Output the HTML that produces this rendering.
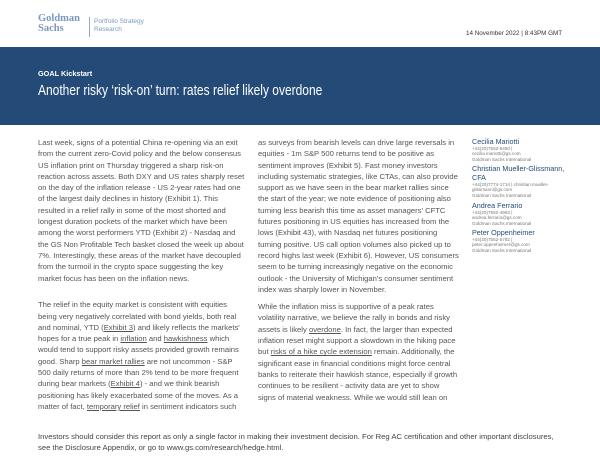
<!DOCTYPE html>
<html><head><meta charset="utf-8"><style>
body{margin:0;width:600px;height:464px;background:#fff;font-family:"Liberation Sans",sans-serif;position:relative;overflow:hidden;color:#333}
.hdr{position:absolute;left:0;top:47px;width:600px;height:78px;background:#244b78}
.col{position:absolute;font-size:7.65px;line-height:11.3px;color:#555;white-space:nowrap}
.col p{margin:0 0 15.4px 0}
u{text-decoration:underline}
.a{position:absolute;left:472px;font-size:4.6px;line-height:5.4px;color:#777;white-space:nowrap}
.a b{display:block;font-weight:normal;font-size:7.2px;line-height:9px;color:#244b78}
</style></head><body>
<div style="position:absolute;left:38px;top:14px;font-family:'Liberation Serif',serif;font-weight:bold;font-size:10.5px;line-height:9.5px;color:#7a99bd">Goldman<br>Sachs</div>
<div style="position:absolute;left:89px;top:17px;width:1px;height:20px;background:#9ab"></div>
<div style="position:absolute;left:94px;top:18px;font-size:6.5px;line-height:8px;color:#7a99bd">Portfolio Strategy<br>Research</div>
<div style="position:absolute;left:466px;top:30px;font-size:6.3px;color:#333">14 November 2022 | 8:43PM GMT</div>
<div class="hdr">
<div style="position:absolute;left:38px;top:22px;font-size:7.3px;font-weight:bold;color:#fff">GOAL Kickstart</div>
<div style="position:absolute;left:38px;top:35px;font-size:15px;color:#fff;white-space:nowrap;transform:scaleX(0.8);transform-origin:0 0">Another risky ‘risk-on’ turn: rates relief likely overdone</div>
</div>
<div class="col" style="left:38px;top:137px">
<p>Last week, signs of a potential China re-opening via an exit<br>from the current zero-Covid policy and the below consensus<br>US inflation print on Thursday triggered a sharp risk-on<br>reaction across assets. Both DXY and US rates sharply reset<br>on the day of the inflation release - US 2-year rates had one<br>of the largest daily declines in history (Exhibit 1). This<br>resulted in a relief rally in some of the most shorted and<br>longest duration pockets of the market which have been<br>among the worst performers YTD (Exhibit 2) - Nasdaq and<br>the GS Non Profitable Tech basket closed the week up about<br>7%. Interestingly, these areas of the market have decoupled<br>from the turmoil in the crypto space suggesting the key<br>market focus has been on the inflation news.</p>
<p>The relief in the equity market is consistent with equities<br>being very negatively correlated with bond yields, both real<br>and nominal, YTD (<u>Exhibit 3</u>) and likely reflects the markets'<br>hopes for a true peak in <u>inflation</u> and <u>hawkishness</u> which<br>would tend to support risky assets provided growth remains<br>good. Sharp <u>bear market rallies</u> are not uncommon - S&amp;P<br>500 daily returns of more than 2% tend to be more frequent<br>during bear markets (<u>Exhibit 4</u>) - and we think bearish<br>positioning has likely exacerbated some of the moves. As a<br>matter of fact, <u>temporary relief</u> in sentiment indicators such</p>
</div>
<div class="col" style="left:258px;top:137px">
<p style="margin-bottom:6px">as surveys from bearish levels can drive large reversals in<br>equities - 1m S&amp;P 500 returns tend to be positive as<br>sentiment improves (Exhibit 5). Fast money investors<br>including systematic strategies, like CTAs, can also provide<br>support as we have seen in the bear market rallies since<br>the start of the year; we note evidence of positioning also<br>turning less bearish this time as asset managers' CFTC<br>futures positioning in US equities has increased from the<br>lows (Exhibit 43), with Nasdaq net futures positioning<br>turning positive. US call option volumes also picked up to<br>record highs last week (Exhibit 6). However, US consumers<br>seem to be turning increasingly negative on the economic<br>outlook - the University of Michigan's consumer sentiment<br>index was sharply lower in November.</p>
<p>While the inflation miss is supportive of a peak rates<br>volatility narrative, we believe the rally in bonds and risky<br>assets is likely <u>overdone</u>. In fact, the larger than expected<br>inflation reset might support a slowdown in the hiking pace<br>but <u>risks of a hike cycle extension</u> remain. Additionally, the<br>significant ease in financial conditions might force central<br>banks to reiterate their hawkish stance, especially if growth<br>continues to be resilient - activity data are yet to show<br>signs of material weakness. While we would still lean on</p>
</div>
<div class="a" style="top:137px"><b>Cecilia Mariotti</b>+44(20)7552-6450 |<br>cecilia.mariotti@gs.com<br>Goldman Sachs International</div>
<div class="a" style="top:164px"><b>Christian Mueller-Glissmann,<br>CFA</b>+44(20)7774-1714 | christian.mueller-<br>glissmann@gs.com<br>Goldman Sachs International</div>
<div class="a" style="top:201px"><b>Andrea Ferrario</b>+44(20)7552-4963 |<br>andrea.ferrario@gs.com<br>Goldman Sachs International</div>
<div class="a" style="top:228px"><b>Peter Oppenheimer</b>+44(20)7552-5782 |<br>peter.oppenheimer@gs.com<br>Goldman Sachs International</div>
<div class="col" style="left:38px;top:431px;color:#444">Investors should consider this report as only a single factor in making their investment decision. For Reg AC certification and other important disclosures,<br>see the Disclosure Appendix, or go to www.gs.com/research/hedge.html.</div>
</body></html>
